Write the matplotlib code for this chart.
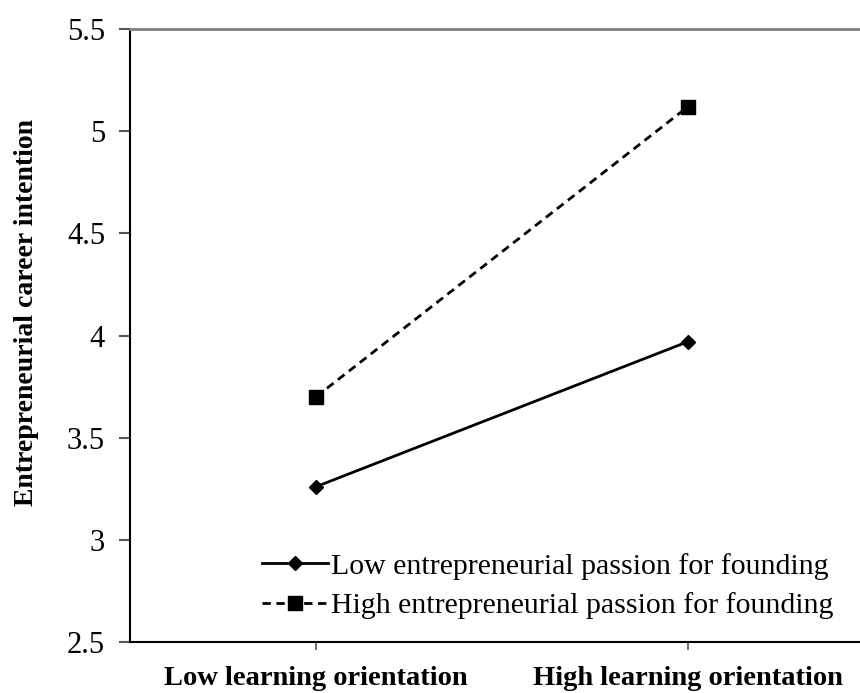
import matplotlib
matplotlib.use("Agg")
import matplotlib.pyplot as plt

categories = ["Low learning orientation", "High learning orientation"]
low_passion = [3.26, 3.97]
high_passion = [3.70, 5.12]
series_labels = ["Low entrepreneurial passion for founding",
                 "High entrepreneurial passion for founding"]
yticks = [2.5, 3, 3.5, 4, 4.5, 5, 5.5]

plt.rcParams['font.family'] = ['Liberation Serif', 'DejaVu Serif']

fig = plt.figure(figsize=(8.6, 6.93), dpi=100)
W, H = 860, 693
left, right, top, bottom = 130, 874, 29, 642
ax = fig.add_axes([left / W, 1 - bottom / H, (right - left) / W, (bottom - top) / H])

x = [0, 1]
ax.plot(x, low_passion, color='black', lw=2, marker='D', ms=7,
        label=series_labels[0])
ax.plot(x, high_passion, color='black', lw=2, ls=(0, (3, 2)), marker='s', ms=10,
        label=series_labels[1])

ax.set_xlim(-0.5, 1.5)
ax.set_ylim(2.5, 5.5)
ax.set_xticks(x)
ax.set_xticklabels(categories, fontsize=20.5, fontweight='bold')
ax.set_yticks(yticks)
ax.set_yticklabels([f"{v:g}" for v in yticks], fontsize=22)
ax.tick_params(axis='y', direction='out', length=8, width=1.5, pad=10, color='#555555')
ax.tick_params(axis='x', direction='out', length=6, width=1.2, pad=11, color='#555555')

ax.spines['right'].set_visible(False)
ax.spines['top'].set_color('#808080')
ax.spines['top'].set_linewidth(2)
ax.spines['left'].set_linewidth(1.5)
ax.spines['bottom'].set_linewidth(1.5)

ax.set_ylabel("Entrepreneurial career intention", fontsize=20, fontweight='bold')
ax.yaxis.set_label_coords((39 - left) / (right - left), (bottom - 312) / (bottom - top))

leg = ax.legend(loc='lower left', bbox_to_anchor=((250 - left) / (right - left), 0.018),
                frameon=False, fontsize=21.5, handlelength=2.2, handletextpad=0.1,
                labelspacing=0.42, borderaxespad=0)

fig.savefig("out.png", dpi=100)
